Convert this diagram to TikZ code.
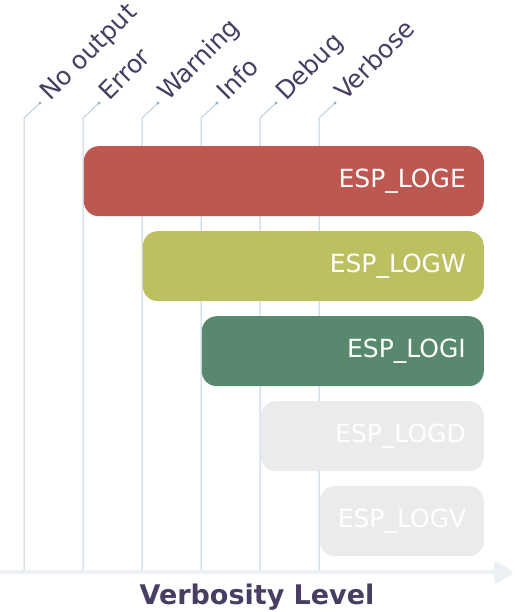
\documentclass[tikz,border=0pt]{standalone}
\usepackage{fontspec}
\setmainfont{DejaVu Sans}
\usetikzlibrary{arrows.meta,positioning}
\definecolor{labelpurple}{RGB}{72,61,99}
\definecolor{leadercol}{RGB}{190,207,221}
\definecolor{dotcol}{RGB}{150,178,200}
\definecolor{axiscol}{RGB}{237,240,244}
\definecolor{logE}{RGB}{189,88,80}
\definecolor{logW}{RGB}{189,192,97}
\definecolor{logI}{RGB}{88,136,110}
\definecolor{logD}{RGB}{235,235,235}
\definecolor{logV}{RGB}{235,235,235}
\tikzstyle{levelbox} = [rectangle, rounded corners=15pt, minimum height=70pt,
    inner xsep=18pt, inner ysep=0pt, align=right, text=white, anchor=north east,
    font=\fontsize{25}{29}\selectfont]
\tikzstyle{levellabel} = [rotate=45, anchor=base west, inner sep=0pt, text=labelpurple,
    font=\fontsize{25}{29}\selectfont]
\tikzstyle{leader} = [draw=leadercol, line width=1pt]
\tikzstyle{axisline} = [draw=axiscol, line width=4pt, line cap=round]

\begin{document}
\begin{tikzpicture}[x=1pt, y=1pt]
                \useasboundingbox (0,0) rectangle (514,612);
                % leader lines and level names
                \foreach \lab [count=\i from 0] in {No output, Error, Warning, Info, Debug, Verbose} {
                    \coordinate (foot\i) at (24+59*\i, 42);
                    \coordinate (kink\i) at (24+59*\i, 494);
                    \coordinate (dot\i) at (40+59*\i, 509);
                    \draw[leader] (foot\i) -- (kink\i) -- (dot\i);
                    \fill[dotcol] (dot\i) circle (1.6pt);
                    \node[levellabel] (lab\i) at ([shift={(10pt,1pt)}]dot\i) {\lab};
                }
                % the macros
                \foreach \name [count=\i from 0] in {E, W, I, D, V} {
                    \pgfmathsetlengthmacro{\boxw}{400pt-59pt*\i}
                    \node[levelbox, fill=log\name, minimum width=\boxw, text width=\boxw-36pt]
                        (box\name) at (484, 466-85*\i) {ESP\_LOG\name};
                }
                % axis
                \coordinate (axisstart) at (2, 39.5);
                \coordinate (axisend) at (513, 39.5);
                \draw[axisline, -{Triangle[length=21pt, width=24pt, round=false]}] (axisstart) -- (axisend);
                \node[text=labelpurple, font=\fontsize{27}{31}\selectfont\bfseries] (axistitle) at (257, 14.5) {Verbosity Level};
            \end{tikzpicture}
\end{document}
